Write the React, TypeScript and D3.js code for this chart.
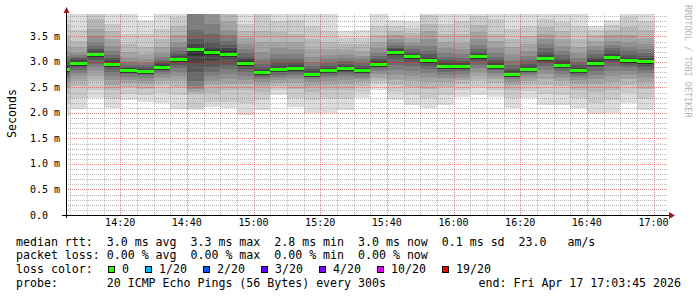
import React from "react";
import * as d3 from "d3";

const W = 697;
const H = 297;

// 5-minute slots (start time of each slot)
const slotStarts = [
  "14:00", "14:05", "14:10", "14:15", "14:20", "14:25", "14:30", "14:35", "14:40", "14:45",
  "14:50", "14:55", "15:00", "15:05", "15:10", "15:15", "15:20", "15:25", "15:30", "15:35",
  "15:40", "15:45", "15:50", "15:55", "16:00", "16:05", "16:10", "16:15", "16:20", "16:25",
  "16:30", "16:35", "16:40", "16:45", "16:50", "16:55",
];

// median rtt per slot (ms)
const medianMs = [
  2.87, 2.98, 3.15, 2.97, 2.84, 2.83, 2.91, 3.06, 3.26, 3.19,
  3.16, 2.99, 2.80, 2.87, 2.88, 2.77, 2.84, 2.88, 2.84, 2.97,
  3.20, 3.11, 3.04, 2.93, 2.93, 3.11, 2.93, 2.77, 2.87, 3.08,
  2.95, 2.85, 2.99, 3.10, 3.03, 3.01,
];

// 20 sorted ping rtts per slot (ms)
const pingsMs = [
  [1.95, 2.20, 2.40, 2.50, 2.60, 2.68, 2.74, 2.79, 2.83, 2.86, 2.89, 2.93, 2.98, 3.05, 3.12, 3.20, 3.32, 3.50, 3.75, 4.20],
  [2.08, 2.30, 2.52, 2.62, 2.72, 2.79, 2.84, 2.89, 2.93, 2.96, 3.00, 3.03, 3.07, 3.10, 3.14, 3.18, 3.30, 3.42, 3.63, 4.30],
  [2.30, 2.45, 2.62, 2.72, 2.82, 2.90, 2.97, 3.03, 3.08, 3.12, 3.17, 3.21, 3.26, 3.32, 3.40, 3.50, 3.65, 3.85, 4.10, 4.40],
  [2.10, 2.28, 2.45, 2.55, 2.65, 2.73, 2.80, 2.86, 2.91, 2.95, 2.99, 3.03, 3.08, 3.14, 3.22, 3.32, 3.45, 3.60, 3.75, 4.20],
  [2.26, 2.38, 2.50, 2.58, 2.65, 2.71, 2.76, 2.79, 2.81, 2.83, 2.86, 2.88, 2.91, 2.95, 3.00, 3.08, 3.20, 3.35, 3.55, 4.10],
  [2.22, 2.36, 2.48, 2.56, 2.63, 2.69, 2.74, 2.78, 2.80, 2.82, 2.85, 2.87, 2.90, 2.94, 2.99, 3.06, 3.15, 3.30, 3.55, 3.83],
  [2.20, 2.40, 2.55, 2.63, 2.70, 2.76, 2.81, 2.85, 2.88, 2.90, 2.93, 2.96, 3.00, 3.04, 3.10, 3.18, 3.30, 3.45, 3.65, 4.15],
  [2.08, 2.35, 2.50, 2.62, 2.72, 2.80, 2.88, 2.95, 3.00, 3.04, 3.08, 3.12, 3.16, 3.22, 3.30, 3.40, 3.52, 3.70, 3.88, 4.30],
  [2.06, 2.10, 2.38, 2.42, 2.48, 2.52, 2.62, 2.80, 2.98, 3.12, 3.30, 3.35, 3.45, 3.63, 4.00, 4.05, 4.10, 4.20, 4.30, 4.50],
  [2.12, 2.22, 2.40, 2.55, 2.62, 2.72, 2.80, 2.90, 3.02, 3.14, 3.24, 3.30, 3.40, 3.55, 3.75, 3.98, 4.10, 4.20, 4.30, 4.40],
  [2.10, 2.22, 2.46, 2.56, 2.66, 2.76, 2.86, 2.95, 3.05, 3.13, 3.21, 3.27, 3.34, 3.42, 3.52, 3.62, 3.80, 3.95, 4.10, 4.30],
  [1.96, 2.20, 2.45, 2.56, 2.65, 2.73, 2.80, 2.87, 2.93, 2.97, 3.01, 3.05, 3.10, 3.17, 3.25, 3.35, 3.47, 3.60, 3.75, 4.20],
  [2.06, 2.25, 2.42, 2.52, 2.60, 2.66, 2.71, 2.74, 2.77, 2.79, 2.82, 2.85, 2.90, 2.96, 3.05, 3.20, 3.40, 3.60, 3.95, 4.30],
  [2.36, 2.45, 2.52, 2.58, 2.64, 2.70, 2.75, 2.80, 2.83, 2.86, 2.89, 2.93, 2.98, 3.05, 3.15, 3.28, 3.40, 3.58, 3.80, 4.20],
  [2.12, 2.30, 2.48, 2.58, 2.66, 2.72, 2.77, 2.81, 2.84, 2.87, 2.90, 2.94, 2.99, 3.06, 3.15, 3.25, 3.40, 3.55, 3.82, 4.10],
  [2.00, 2.25, 2.42, 2.52, 2.60, 2.66, 2.70, 2.73, 2.75, 2.76, 2.79, 2.82, 2.86, 2.92, 3.00, 3.10, 3.25, 3.45, 3.70, 4.20],
  [2.00, 2.28, 2.45, 2.55, 2.63, 2.70, 2.75, 2.78, 2.81, 2.83, 2.86, 2.89, 2.93, 2.99, 3.06, 3.14, 3.25, 3.40, 3.60, 4.10],
  [2.06, 2.28, 2.45, 2.56, 2.65, 2.72, 2.77, 2.81, 2.84, 2.87, 2.90, 2.93, 2.97, 3.02, 3.08, 3.15, 3.25, 3.35, 3.48, 3.60],
  [2.30, 2.42, 2.52, 2.60, 2.66, 2.71, 2.76, 2.79, 2.81, 2.83, 2.86, 2.89, 2.93, 2.98, 3.05, 3.12, 3.22, 3.35, 3.48, 3.63],
  [2.46, 2.56, 2.63, 2.70, 2.76, 2.82, 2.87, 2.91, 2.94, 2.96, 2.99, 3.02, 3.06, 3.11, 3.18, 3.28, 3.40, 3.52, 3.70, 4.10],
  [2.26, 2.42, 2.55, 2.65, 2.75, 2.85, 2.95, 3.05, 3.13, 3.18, 3.22, 3.25, 3.28, 3.32, 3.38, 3.45, 3.52, 3.60, 3.70, 3.83],
  [2.16, 2.35, 2.50, 2.62, 2.72, 2.82, 2.92, 3.00, 3.06, 3.09, 3.13, 3.16, 3.20, 3.25, 3.31, 3.38, 3.47, 3.56, 3.66, 3.80],
  [2.10, 2.30, 2.48, 2.60, 2.70, 2.78, 2.86, 2.93, 2.98, 3.02, 3.06, 3.10, 3.15, 3.22, 3.32, 3.45, 3.60, 3.75, 3.92, 4.20],
  [2.16, 2.35, 2.50, 2.60, 2.68, 2.75, 2.81, 2.86, 2.89, 2.92, 2.95, 2.99, 3.04, 3.10, 3.18, 3.28, 3.40, 3.55, 3.75, 4.10],
  [2.32, 2.45, 2.56, 2.64, 2.71, 2.77, 2.82, 2.86, 2.89, 2.92, 2.95, 2.98, 3.02, 3.08, 3.15, 3.25, 3.38, 3.55, 3.80, 4.20],
  [2.36, 2.50, 2.62, 2.72, 2.80, 2.88, 2.95, 3.01, 3.06, 3.09, 3.13, 3.16, 3.20, 3.26, 3.34, 3.45, 3.58, 3.72, 3.90, 4.20],
  [2.32, 2.46, 2.58, 2.66, 2.73, 2.79, 2.84, 2.88, 2.90, 2.92, 2.95, 2.99, 3.04, 3.10, 3.18, 3.28, 3.42, 3.55, 3.85, 4.10],
  [2.10, 2.30, 2.45, 2.54, 2.61, 2.67, 2.71, 2.73, 2.75, 2.76, 2.79, 2.82, 2.87, 2.94, 3.03, 3.15, 3.30, 3.45, 3.65, 4.10],
  [2.30, 2.44, 2.55, 2.63, 2.70, 2.75, 2.79, 2.82, 2.85, 2.86, 2.89, 2.92, 2.97, 3.04, 3.12, 3.22, 3.35, 3.50, 3.70, 4.10],
  [2.16, 2.38, 2.55, 2.66, 2.76, 2.85, 2.93, 2.99, 3.03, 3.06, 3.10, 3.14, 3.20, 3.27, 3.35, 3.45, 3.55, 3.68, 3.85, 4.20],
  [2.16, 2.36, 2.52, 2.62, 2.70, 2.77, 2.83, 2.88, 2.91, 2.93, 2.97, 3.01, 3.06, 3.13, 3.22, 3.32, 3.45, 3.60, 3.78, 4.20],
  [2.10, 2.30, 2.46, 2.56, 2.64, 2.70, 2.75, 2.79, 2.82, 2.84, 2.87, 2.90, 2.94, 3.00, 3.08, 3.18, 3.30, 3.45, 3.70, 4.10],
  [1.98, 2.20, 2.42, 2.56, 2.66, 2.75, 2.83, 2.90, 2.94, 2.97, 3.01, 3.05, 3.10, 3.16, 3.24, 3.32, 3.42, 3.52, 3.62, 3.70],
  [2.00, 2.26, 2.45, 2.60, 2.72, 2.82, 2.92, 3.00, 3.05, 3.08, 3.12, 3.16, 3.21, 3.27, 3.34, 3.42, 3.52, 3.62, 3.72, 3.83],
  [2.20, 2.40, 2.55, 2.66, 2.75, 2.83, 2.90, 2.95, 2.99, 3.01, 3.05, 3.09, 3.14, 3.21, 3.30, 3.40, 3.52, 3.68, 3.88, 4.20],
  [2.06, 2.28, 2.48, 2.60, 2.70, 2.78, 2.85, 2.91, 2.96, 2.99, 3.03, 3.07, 3.12, 3.18, 3.26, 3.36, 3.48, 3.62, 3.80, 4.20],
];

const yTickValues = [0, 0.5, 1.0, 1.5, 2.0, 2.5, 3.0, 3.5];
const yTickLabels = ["0.0", "0.5 m", "1.0 m", "1.5 m", "2.0 m", "2.5 m", "3.0 m", "3.5 m"];
const xTickLabels = ["14:20", "14:40", "15:00", "15:20", "15:40", "16:00", "16:20", "16:40", "17:00"];

const legendRtt = "median rtt:  3.0 ms avg  3.3 ms max  2.8 ms min  3.0 ms now  0.1 ms sd  23.0   am/s";
const legendLoss = "packet loss: 0.00 % avg  0.00 % max  0.00 % min  0.00 % now";
const lossTitle = "loss color:";
const lossLabels = ["0", "1/20", "2/20", "3/20", "4/20", "10/20", "19/20"];
const lossColors = ["#26ff00", "#00b8ff", "#0059ff", "#5e00ff", "#7e00ff", "#dd00ff", "#ff0000"];
const probeText = "probe:       20 ICMP Echo Pings (56 Bytes) every 300s";
const endText = "end: Fri Apr 17 17:03:45 2026";
const yAxisTitle = "Seconds";
const watermark = "RRDTOOL / TOBI OETIKER";

const MONO = "'DejaVu Sans Mono', 'Liberation Mono', monospace";

export default function App() {
  const parse = d3.utcParse("%H:%M:%S");
  const t0 = parse("14:03:45") as Date;
  const t1 = parse("17:03:45") as Date;
  const left = 66, right = 666, top = 14, bottom = 215;
  const x = d3.scaleUtc().domain([t0, t1]).range([left, right]);
  const y = d3.scaleLinear().domain([0, 3.941]).range([bottom, top]);

  const half = 10;
  const shade = (i: number) => {
    const c = Math.floor((190 / half) * (half - i)) + 50;
    return d3.rgb(c, c, c).formatHex();
  };

  const slots = slotStarts.map((s, i) => {
    const st = parse(s + ":00") as Date;
    const en = d3.utcMinute.offset(st, 5);
    return { x0: Math.max(x(st), left + 1), x1: x(en), pings: pingsMs[i], median: medianMs[i] };
  });

  const fiveMin = d3.utcMinute.every(5)!.range(d3.utcMinute.offset(t0, 1), t1);
  const majorX = xTickLabels.map((l) => parse(l + ":00") as Date);
  const minorX = fiveMin.filter((d) => d.getUTCMinutes() % 20 !== 0);
  const minorY = d3.range(1, 40).map((k) => k / 10).filter((v) => y(v) >= top && Math.round(v * 10) % 5 !== 0);
  const majorY = yTickValues.filter((v) => v > 0);

  const gridMinor = "rgba(130,130,130,0.55)";
  const gridMajor = "rgba(200,40,40,0.55)";
  const row = (v: number) => Math.round(v);

  let cursor = 108;
  const lossItems = lossLabels.map((lab, i) => {
    const item = { x: cursor, label: lab, color: lossColors[i] };
    cursor += 7 * lab.length + 30;
    return item;
  });

  const legendY = [245.5, 259, 272.8, 286.5];
  const gridX0 = left + 1;
  const gridW = right + 2 - gridX0;

  return (
    <svg
      width={W}
      height={H}
      style={{ position: "absolute", left: 0, top: 0, background: "#fff" }}
      xmlns="http://www.w3.org/2000/svg"
    >
      <defs>
        <clipPath id="plot">
          <rect x={left + 1} y={top} width={right - left} height={bottom - top} />
        </clipPath>
        <pattern id="hMinor" x={0} y={0} width={2} height={1} patternUnits="userSpaceOnUse">
          <rect x={0} y={0} width={1} height={1} fill={gridMinor} />
        </pattern>
        <pattern id="vMinor" x={0} y={0} width={1} height={2} patternUnits="userSpaceOnUse">
          <rect x={0} y={0} width={1} height={1} fill={gridMinor} />
        </pattern>
        <pattern id="hMajor" x={0} y={0} width={2} height={1} patternUnits="userSpaceOnUse">
          <rect x={0} y={0} width={1} height={1} fill={gridMajor} />
        </pattern>
        <pattern id="vMajor" x={0} y={0} width={1} height={2} patternUnits="userSpaceOnUse">
          <rect x={0} y={0} width={1} height={1} fill={gridMajor} />
        </pattern>
      </defs>
      <rect x={0} y={0} width={W} height={H} fill="#fff" />

      {/* smoke */}
      <g clipPath="url(#plot)" shapeRendering="crispEdges">
        {slots.map((s, si) =>
          d3.range(half).map((k) => {
            const lo = s.pings[k];
            const hi = s.pings[19 - k];
            const y0 = y(hi);
            const y1 = y(lo);
            return (
              <rect
                key={`s${si}-${k}`}
                x={s.x0}
                y={y0}
                width={s.x1 - s.x0}
                height={y1 - y0}
                fill={shade(k + 1)}
              />
            );
          })
        )}
      </g>

      {/* grid (dotted, 1px on / 1px off) */}
      <g shapeRendering="crispEdges">
        {minorY.map((v, i) => (
          <rect key={`gy${i}`} x={gridX0} y={row(y(v))} width={gridW} height={1} fill="url(#hMinor)" />
        ))}
        {minorX.map((d, i) => (
          <rect key={`gx${i}`} x={row(x(d))} y={top} width={1} height={bottom - top} fill="url(#vMinor)" />
        ))}
        {majorY.map((v, i) => (
          <rect key={`my${i}`} x={gridX0} y={row(y(v))} width={gridW} height={1} fill="url(#hMajor)" />
        ))}
        {majorX.map((d, i) => (
          <rect key={`mx${i}`} x={row(x(d))} y={top} width={1} height={bottom - top} fill="url(#vMajor)" />
        ))}
      </g>

      {/* median lines */}
      <g shapeRendering="crispEdges">
        {slots.map((s, i) => (
          <g key={`m${i}`}>
            <rect x={s.x0} y={Math.round(y(s.median)) - 1} width={s.x1 - s.x0} height={3} fill={lossColors[0]} />
            <rect x={s.x0} y={Math.round(y(s.median)) + 2} width={s.x1 - s.x0} height={1} fill="#202020" opacity={0.6} />
          </g>
        ))}
      </g>

      {/* axes */}
      <g shapeRendering="crispEdges">
        <line x1={62} x2={670} y1={bottom + 0.5} y2={bottom + 0.5} stroke="#000" />
        <line x1={left + 0.5} x2={left + 0.5} y1={11} y2={bottom + 3} stroke="#000" />
      </g>
      <path d={`M669,${bottom - 3} L675,${bottom + 0.5} L669,${bottom + 4} Z`} fill="#a01818" />
      <path d={`M63.5,13 L66.5,7 L69.5,13 Z`} fill="#a01818" />

      {/* tick labels */}
      <g fontFamily={MONO} fontSize={10} fill="#000">
        {yTickValues.map((v, i) => (
          <text key={`yl${i}`} x={30} y={y(v) + 3.5} xmlSpace="preserve" style={{ whiteSpace: "pre" }}>
            {yTickLabels[i]}
          </text>
        ))}
        {xTickLabels.map((lab, i) => {
          const d = parse(lab + ":00") as Date;
          return (
            <text key={`xl${i}`} x={x(d)} y={226} textAnchor="middle">
              {lab}
            </text>
          );
        })}
      </g>

      <text
        transform="translate(15.5,113.5) rotate(-90)"
        textAnchor="middle"
        fontFamily={MONO}
        fontSize={11.6}
        fill="#000"
      >
        {yAxisTitle}
      </text>

      <text
        transform="translate(685,5) rotate(90)"
        fontFamily={MONO}
        fontSize={8.5}
        fill="#b4b4b4"
      >
        {watermark}
      </text>

      {/* legend */}
      <g fontFamily={MONO} fontSize={11.6} fill="#000" style={{ whiteSpace: "pre" }}>
        <text x={16} y={legendY[0]} xmlSpace="preserve">{legendRtt}</text>
        <text x={16} y={legendY[1]} xmlSpace="preserve">{legendLoss}</text>
        <text x={16} y={legendY[2]} xmlSpace="preserve">{lossTitle}</text>
        {lossItems.map((it, i) => (
          <g key={`li${i}`}>
            <rect x={it.x + 0.5} y={266.5} width={6} height={6} fill={it.color} stroke="#000" strokeWidth={1} shapeRendering="crispEdges" />
            <text x={it.x + 14} y={legendY[2]}>{it.label}</text>
          </g>
        ))}
        <text x={16} y={legendY[3]} xmlSpace="preserve">{probeText}</text>
        <text x={681} y={legendY[3]} textAnchor="end" xmlSpace="preserve">{endText}</text>
      </g>
    </svg>
  );
}
